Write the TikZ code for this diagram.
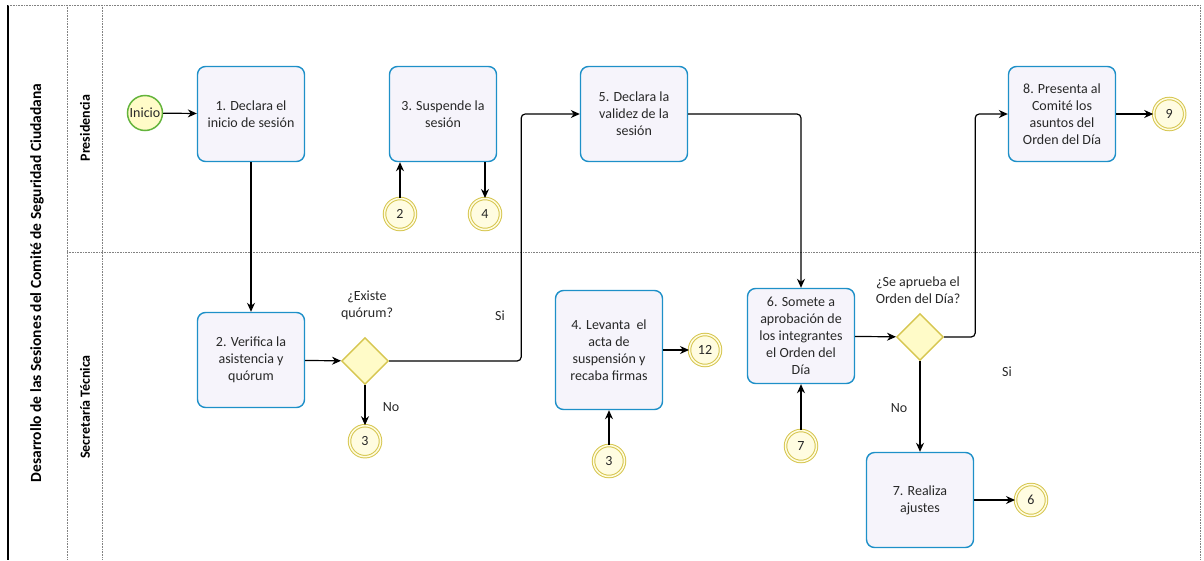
\documentclass[tikz,border=0pt]{standalone}
\usepackage{fontspec}
\setmainfont{Carlito}
\usetikzlibrary{positioning, shapes.geometric, arrows.meta}

\definecolor{taskline}{RGB}{30,144,200}
\definecolor{taskfill}{RGB}{246,244,251}
\definecolor{endline}{RGB}{214,198,80}
\definecolor{endfill}{RGB}{255,252,225}
\definecolor{startline}{RGB}{100,180,60}
\definecolor{gatefill}{RGB}{255,251,200}
\definecolor{laneline}{RGB}{130,130,130}
\definecolor{inktext}{RGB}{40,40,40}

\tikzset{
  every node/.style = {font = \fontsize{14}{17}\selectfont, text = inktext},
  task/.style = {draw = taskline, fill = taskfill, line width = 1.4pt, rounded corners = 8pt,
                 minimum width = 107pt, minimum height = 95pt, align = center, inner sep = 2pt},
  endevt/.style = {circle, draw = endline, double = endfill, double distance = 1.5pt, line width = 1pt,
                   fill = endfill, minimum size = 31pt, inner sep = 0pt},
  startevt/.style = {circle, draw = startline, line width = 1.5pt, fill = gatefill,
                     minimum size = 35pt, inner sep = 0pt},
  gate/.style = {diamond, draw = endline, fill = gatefill, line width = 1.4pt, minimum size = 47pt, inner sep = 0pt},
  flow/.style = {-{Stealth[length = 9pt, width = 8pt]}, line width = 1.2pt, rounded corners = 4pt},
  lane/.style = {draw = laneline, densely dotted, line width = .6pt},
  lanetitle/.style = {rotate = 90, text = black, font = \fontsize{14}{17}\selectfont\bfseries}
}

\begin{document}
\begin{tikzpicture}[x = 1pt, y = -1pt]
  \useasboundingbox (0,0) rectangle (1204,560);

  % pool and lanes
  \draw[line width = 1.2pt] (8,5) -- (8,560);
  \draw[lane] (8,5) -- (1200,5) -- (1200,560);
  \draw[lane] (67,5) -- (67,560);
  \draw[lane] (102,5) -- (102,560);
  \draw[lane] (67,252) -- (1200,252);
  \node[lanetitle, font = \fontsize{15.5}{17}\selectfont\bfseries] (pool) at (37,283) {Desarrollo de las Sesiones del Comité de Seguridad Ciudadana};
  \node[lanetitle] (presi) at (85,128) {Presidencia};
  \node[lanetitle] (secre) at (85,407) {Secretaría Técnica};

  % Presidencia
  \node[startevt] (inicio) at (145,113) {Inicio};
  \node[task] (t1) at (251,114) {1. Declara el\\inicio de sesión};
  \node[task] (t3) at (443,114) {3. Suspende la\\sesión};
  \node[endevt] (e2) at (400,214) {2};
  \node[endevt] (e4) at (485,214) {4};
  \node[task] (t5) at (634,114) {5. Declara la\\validez de la\\sesión};
  \node[task] (t8) at (1062,114) {8. Presenta al\\Comité los\\asuntos del\\Orden del Día};
  \node[endevt, right = 37pt of t8] (e9) {9};

  % Secretaria Tecnica
  \node[task] (t2) at (251,360) {2. Verifica la\\asistencia y\\quórum};
  \node[gate] (g1) at (365,361) {};
  \node[endevt, below = 40pt of g1] (e3a) {3};
  \node[align = center] (q1) at (367,305) {¿Existe\\quórum?};
  \node (no1) at (391,407) {No};
  \node (si1) at (500,316) {Si};

  \node[task, minimum height = 119pt] (t4) at (609,350) {4. Levanta\ \ el\\acta de\\suspensión y\\recaba firmas};
  \node[endevt] (e12) at (705,350) {12};
  \node[endevt] (e3b) at (609,461) {3};

  \node[task] (t6) at (801,336) {6. Somete a\\aprobación de\\los integrantes\\el Orden del\\Día};
  \node[endevt] (e7) at (801,446) {7};
  \node[gate] (g2) at (920,337) {};
  \node[align = center] (q2) at (918,290) {¿Se aprueba el\\Orden del Día?};
  \node (si2) at (1007,372) {Si};
  \node (no2) at (899,408) {No};
  \node[task] (t7) at (920,500) {7. Realiza\\ajustes};
  \node[endevt] (e6) at (1031,500) {6};

  % flows
  \draw[flow] (inicio) -- (t1);
  \draw[flow] (t1) -- (t2);
  \draw[flow] (t2) -- (g1);
  \draw[flow] (g1) -- (e3a);
  \draw[flow] (g1.east) -- ++(132,0) |- (t5.west);
  \draw[flow] (e2) -- (e2 |- t3.south);
  \draw[flow] (e4 |- t3.south) -- (e4);
  \draw[flow] (t5.east) -| (t6.north);
  \draw[flow] (t4) -- (e12);
  \draw[flow] (e3b) -- (t4);
  \draw[flow] (e7) -- (t6);
  \draw[flow] (t6) -- (g2);
  \draw[flow] (g2.east) -- ++(31,0) |- (t8.west);
  \draw[flow] (g2) -- (t7);
  \draw[flow] (t7) -- (e6);
  \draw[flow] (t8) -- (e9);
\end{tikzpicture}
\end{document}
